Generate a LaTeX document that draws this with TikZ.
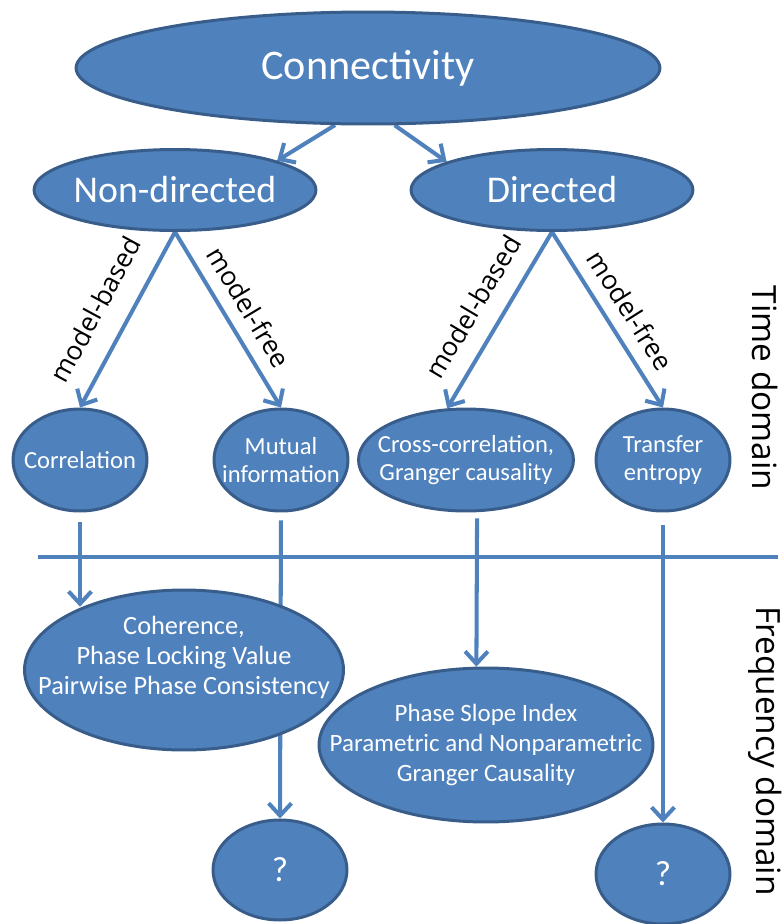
\documentclass[tikz,border=0pt]{standalone}
\usepackage{fontspec}
\setmainfont{Carlito}
\newfontfamily\labelfont{Open Sans}
\usetikzlibrary{shapes.geometric,arrows.meta,backgrounds}
\definecolor{blu}{HTML}{4F81BD}
\definecolor{bord}{HTML}{385D8A}
\begin{document}
\begin{tikzpicture}[x=0.02cm, y=0.02cm,
  blob/.style={draw=bord, fill=blu, line width=1.7pt, ellipse, inner sep=-4cm, text=white, align=center},
  small/.style={blob, minimum width=2.68cm, minimum height=2.04cm, font=\fontsize{14}{16}\selectfont},
  link/.style={blu, line width=2.3pt, -{Straight Barb[length=7pt,width=13pt]}},
  tag/.style={sloped, above, text=black, font=\labelfont\fontsize{15}{18}\selectfont}]
  \useasboundingbox (0,0) rectangle (782,-924);
  \node (con) [blob, minimum width=11.68cm, minimum height=2.24cm, font=\fontsize{24}{28}\selectfont] at (368,-68) {Connectivity};
  \node (nd) [blob, minimum width=5.64cm, minimum height=1.62cm, font=\fontsize{21.5}{25}\selectfont] at (175,-190) {Non-directed};
  \node (dir) [blob, minimum width=5.64cm, minimum height=1.62cm, font=\fontsize{21.5}{25}\selectfont] at (552,-190) {Directed};
  \node (corr) [small] at (80,-460) {Correlation};
  \node (mi) [small] at (281,-460) {Mutual\\information};
  \node (cc) [small, minimum width=4.3cm] at (466,-460) {Cross-correlation,\\Granger causality};
  \node (te) [small] at (663,-460) {Transfer\\entropy};
  \node (psi) [blob, minimum width=6.68cm, minimum height=3.08cm, font=\fontsize{14.2}{17}\selectfont] at (486,-745) {Phase Slope Index\\Parametric and Nonparametric\\Granger Causality};
  \node (coh) [blob, minimum width=6.38cm, minimum height=3.2cm, font=\fontsize{15}{17}\selectfont] at (184,-670) {Coherence,\\Phase Locking Value\\Pairwise Phase Consistency\\\mbox{}};
  \node (q1) [small, minimum height=2cm, font=\fontsize{20}{24}\selectfont] at (280,-870) {?};
  \node (q2) [small, minimum height=2cm, font=\fontsize{20}{24}\selectfont] at (663,-874) {?};
  \node (td) [rotate=-90, font=\labelfont\fontsize{19}{22}\selectfont] at (765,-388) {Time domain};
  \node (fd) [rotate=-90, font=\labelfont\fontsize{19}{22}\selectfont] at (765,-751) {Frequency domain};
  \coordinate (L) at (38,-557);
  \coordinate (R) at (778,-557);
  \begin{scope}[on background layer]
    \draw [blu, line width=2.3pt] (L) -- (R);
    \draw [link] (con.240) -- (nd.16);
    \draw [link] (con.295) -- (dir.165);
    \draw [link] (nd.south) -- node [tag, inner sep=12pt, pos=0.53] {model-based} (corr.north);
    \draw [link] (nd.south) -- node [tag, inner sep=7pt, pos=0.5] {model-free} (mi.north);
    \draw [link] (dir.south) -- node [tag, inner sep=10pt, pos=0.51] {model-based} (cc.110);
    \draw [link] (dir.south) -- node [tag, inner sep=7pt, pos=0.52] {model-free} (te.north);
    \draw [link, shorten <=5.5pt] (corr.south) -- (corr.south |- coh.148);
    \draw [link, shorten <=4.5pt] (mi.south) -- (q1.north);
    \draw [link, shorten <=3.5pt] (cc.-78) -- (psi.97);
    \draw [link, shorten <=7pt] (te.south) -- (q2.north);
  \end{scope}
\end{tikzpicture}
\end{document}
